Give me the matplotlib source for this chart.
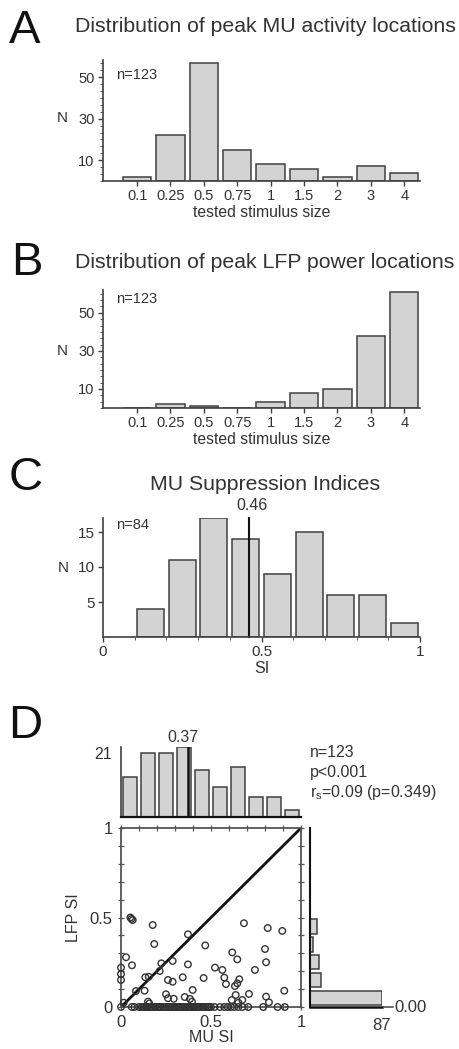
import numpy as np
import matplotlib
matplotlib.use('Agg')
import matplotlib.pyplot as plt
from matplotlib.ticker import FixedLocator

plt.rcParams['font.family'] = ['Liberation Sans', 'DejaVu Sans']
plt.rcParams['mathtext.fontset'] = 'custom'
plt.rcParams['mathtext.rm'] = 'Liberation Sans'
plt.rcParams['mathtext.it'] = 'Liberation Sans'

# ---------------- data ----------------
size_labels = ['0.1', '0.25', '0.5', '0.75', '1', '1.5', '2', '3', '4']
mu_peak_counts = [2, 22, 57, 15, 8, 6, 2, 7, 4]
lfp_peak_counts = [0, 2, 1, 0, 3, 8, 10, 38, 61]

si_bin_centers = [0.15, 0.25, 0.35, 0.45, 0.55, 0.65, 0.75, 0.85, 0.95]
mu_si_counts = [4, 11, 17, 14, 9, 15, 6, 6, 2]
mu_si_median = 0.46

mu_all_bin_centers = [0.05, 0.15, 0.25, 0.35, 0.45, 0.55, 0.65, 0.75, 0.85, 0.95]
mu_all_counts = [12, 19, 19, 21, 14, 9, 15, 6, 6, 2]
mu_all_median = 0.37

lfp_bin_centers = [0.05, 0.15, 0.25, 0.35, 0.45]
lfp_counts = [87, 13, 11, 4, 8]
lfp_median = 0.00

# scatter points (MU SI, LFP SI) with LFP SI > 0
mu_si_pts = [0.052, 0.065, 0.058, 0.176, 0.372, 0.683, 0.815, 0.896,
             0.185, 0.468, 0.618, 0.800,
             0.028, 0.061, 0.224, 0.287, 0.372, 0.0, 0.215, 0.646, 0.806, 0.522, 0.563, 0.744,
             0.0, 0.0, 0.135, 0.154, 0.261, 0.287, 0.343, 0.459, 0.574, 0.583, 0.657, 0.633, 0.646,
             0.083, 0.131, 0.398, 0.250, 0.261, 0.293, 0.354, 0.383, 0.394, 0.150, 0.157, 0.015,
             0.907, 0.711, 0.637, 0.806, 0.615, 0.674, 0.822, 0.652]
lfp_si_pts = [0.500, 0.486, 0.492, 0.458, 0.406, 0.468, 0.441, 0.425,
              0.352, 0.344, 0.305, 0.324,
              0.278, 0.233, 0.244, 0.257, 0.238, 0.220, 0.201, 0.266, 0.250, 0.220, 0.207, 0.207,
              0.184, 0.151, 0.166, 0.169, 0.151, 0.141, 0.166, 0.162, 0.164, 0.128, 0.155, 0.117, 0.132,
              0.089, 0.091, 0.095, 0.071, 0.049, 0.046, 0.056, 0.045, 0.030, 0.030, 0.020, 0.024,
              0.091, 0.073, 0.067, 0.058, 0.039, 0.039, 0.026, 0.024]
# scatter points with LFP SI = 0 (MU SI values)
mu_si_zero = [0.0, 0.06, 0.075,
              0.10, 0.115, 0.125, 0.13, 0.14, 0.145, 0.15, 0.16, 0.17, 0.18, 0.19, 0.195,
              0.205, 0.21, 0.215, 0.22, 0.235, 0.24, 0.25, 0.26, 0.265, 0.27, 0.28, 0.29,
              0.30, 0.31, 0.32, 0.325, 0.33, 0.34, 0.35, 0.355, 0.36, 0.37, 0.38, 0.385, 0.39,
              0.40, 0.405, 0.41, 0.42, 0.43, 0.435, 0.44, 0.45, 0.455, 0.46, 0.47, 0.48, 0.49,
              0.50, 0.52, 0.55, 0.574, 0.593,
              0.611, 0.63, 0.652, 0.674,
              0.707, 0.79, 0.87, 0.91]

# ---------------- style ----------------
W, H = 460, 1049
FILL = '#d3d3d3'
EDGE = '#404040'
TXT = '#333333'

fig = plt.figure(figsize=(W / 100, H / 100), dpi=100)


def ax_at(l, t, r, b):
    return fig.add_axes([l / W, 1 - b / H, (r - l) / W, (b - t) / H])


def ftext(x, y, s, **kw):
    kw.setdefault('color', TXT)
    return fig.text(x / W, 1 - y / H, s, **kw)


def basic_spines(ax):
    for s in ['top', 'right']:
        ax.spines[s].set_visible(False)
    for s in ['left', 'bottom']:
        ax.spines[s].set_color(EDGE)
        ax.spines[s].set_linewidth(1.2)
    ax.tick_params(colors=EDGE, labelcolor=TXT, labelsize=10.5, width=1.0)


def size_hist(ax, counts, ymax):
    x = np.arange(len(size_labels))
    ax.bar(x, counts, width=0.85, color=FILL, edgecolor=EDGE, linewidth=1.1)
    ax.set_xlim(-1.02, 8.47)
    ax.set_ylim(0, ymax)
    basic_spines(ax)
    ax.set_xticks(x)
    ax.set_xticklabels(size_labels)
    ax.set_yticks([10, 30, 50])
    ax.yaxis.set_minor_locator(FixedLocator(np.arange(0, ymax, 10 / 3)))
    ax.tick_params(axis='both', which='major', direction='out', length=3.5, pad=2.5)
    ax.tick_params(axis='y', which='minor', direction='out', length=2.2, color=EDGE)
    ax.set_xlabel('tested stimulus size', fontsize=11.3, color=TXT, labelpad=1)


# Panel A
ftext(9, 43, 'A', fontsize=34, va='baseline', color='#111111')
ftext(75, 32, 'Distribution of peak MU activity locations', fontsize=15.3, va='baseline')
axA = ax_at(103, 60, 420, 181)
size_hist(axA, mu_peak_counts, 58.3)
axA.text(0.04, 0.88, 'n=123', transform=axA.transAxes, fontsize=10.5, color=TXT, va='center')
ftext(62, 118, 'N', fontsize=11, ha='center', va='center')

# Panel B
ftext(11, 275, 'B', fontsize=34, va='baseline', color='#111111')
ftext(75, 268, 'Distribution of peak LFP power locations', fontsize=15.3, va='baseline')
axB = ax_at(103, 290, 420, 408)
size_hist(axB, lfp_peak_counts, 62)
axB.text(0.04, 0.925, 'n=123', transform=axB.transAxes, fontsize=10.5, color=TXT, va='center')
ftext(62, 351, 'N', fontsize=11, ha='center', va='center')

# Panel C
ftext(9, 490, 'C', fontsize=34, va='baseline', color='#111111')
ftext(265, 490, 'MU Suppression Indices', fontsize=15.3, va='baseline', ha='center')
axC = ax_at(103, 518, 420, 637)
axC.bar(si_bin_centers, mu_si_counts, width=0.085, color=FILL, edgecolor=EDGE, linewidth=1.1)
axC.set_xlim(0, 1)
axC.set_ylim(0, 17)
basic_spines(axC)
axC.set_xticks([0, 0.5, 1])
axC.set_xticklabels(['0', '0.5', '1'])
axC.xaxis.set_minor_locator(FixedLocator(np.arange(0, 1.01, 0.1)))
axC.set_yticks([5, 10, 15])
axC.tick_params(axis='both', which='major', direction='out', length=3.5, pad=2.5, labelsize=11)
axC.tick_params(axis='x', which='minor', direction='out', length=2.5, color=EDGE)
axC.plot([mu_si_median, mu_si_median], [0, 17], color='#111111', lw=1.5, clip_on=False)
axC.text(mu_si_median + 0.01, 17.7, '0.46', ha='center', va='bottom', fontsize=11.5, color=TXT)
axC.text(0.04, 0.94, 'n=84', transform=axC.transAxes, fontsize=10.5, color=TXT, va='center')
axC.set_xlabel('SI', fontsize=11.5, color=TXT, labelpad=1)
ftext(63, 568, 'N', fontsize=11, ha='center', va='center')

# Panel D
ftext(8, 738, 'D', fontsize=34, va='baseline', color='#111111')

# top histogram (MU SI)
axT = ax_at(121, 746.7, 301, 817)
axT.bar(mu_all_bin_centers, mu_all_counts, width=0.08, color=FILL, edgecolor=EDGE, linewidth=1.1)
axT.set_xlim(0, 1)
axT.set_ylim(0, 21)
for s in ['top', 'right']:
    axT.spines[s].set_visible(False)
axT.spines['left'].set_color(EDGE)
axT.spines['left'].set_linewidth(1.2)
axT.spines['bottom'].set_color('#111111')
axT.spines['bottom'].set_linewidth(1.6)
axT.set_xticks([])
axT.set_yticks([])
axT.plot([mu_all_median, mu_all_median], [0, 21], color='#111111', lw=1.8)
axT.text(mu_all_median - 0.025, 21.5, '0.37', ha='center', va='bottom', fontsize=11.5, color=TXT)
axT.text(-0.05, 21, '21', ha='right', va='top', fontsize=11.5, color=TXT)

ftext(310, 757, 'n=123', fontsize=11.5, va='baseline')
ftext(310, 777, 'p<0.001', fontsize=11.5, va='baseline')
ftext(310, 797, r'r$_\mathrm{s}$=0.09 (p=0.349)', fontsize=11.5, va='baseline')

# scatter
axS = ax_at(121, 828, 301, 1007)
axS.plot([0, 1], [0, 1], color='#111111', lw=2.0, zorder=2)
axS.scatter(mu_si_pts, lfp_si_pts, s=22, facecolors='none', edgecolors='#333333',
            linewidths=1.0, clip_on=False, zorder=3)
axS.scatter(mu_si_zero, np.zeros(len(mu_si_zero)), s=22, facecolors='none',
            edgecolors='#333333', linewidths=1.0, clip_on=False, zorder=3)
axS.set_xlim(0, 1)
axS.set_ylim(0, 1)
for s in axS.spines.values():
    s.set_color('#555555')
    s.set_linewidth(1.3)
axS.set_xticks([0, 0.5, 1])
axS.set_xticklabels(['0', '0.5', '1'])
axS.set_yticks([0, 0.5, 1])
axS.set_yticklabels(['0', '0.5', '1'])
axS.xaxis.set_minor_locator(FixedLocator(np.arange(0, 1.01, 0.1)))
axS.yaxis.set_minor_locator(FixedLocator(np.arange(0, 1.01, 0.1)))
axS.tick_params(which='both', direction='inout', length=4, width=0.9, color='#555555',
                top=True, right=True, labelsize=12, labelcolor=TXT, pad=4)
axS.set_xlabel('MU SI', fontsize=11.5, color=TXT, labelpad=0)
axS.set_ylabel('LFP SI', fontsize=11.5, color=TXT, labelpad=6)

# right histogram (LFP SI)
axR = ax_at(310, 828, 382, 1007)
axR.barh(lfp_bin_centers, lfp_counts, height=0.08, color=FILL, edgecolor=EDGE, linewidth=1.1)
axR.set_xlim(0, 87)
axR.set_ylim(0, 1)
for s in ['top', 'right', 'bottom']:
    axR.spines[s].set_visible(False)
axR.spines['left'].set_color('#111111')
axR.spines['left'].set_linewidth(1.5)
axR.set_yticks([])
axR.set_xticks([87])
axR.set_xticklabels(['87'])
axR.tick_params(axis='x', length=0, labelsize=12, labelcolor=TXT, pad=8)
axR.plot([0, 87], [lfp_median, lfp_median], color='#111111', lw=1.8, clip_on=False)
axR.plot([89, 100], [lfp_median, lfp_median], color='#555555', lw=1.2, clip_on=False)
axR.text(102, lfp_median, '0.00', ha='left', va='center', fontsize=12, color=TXT)

fig.savefig('out.png', dpi=100)
